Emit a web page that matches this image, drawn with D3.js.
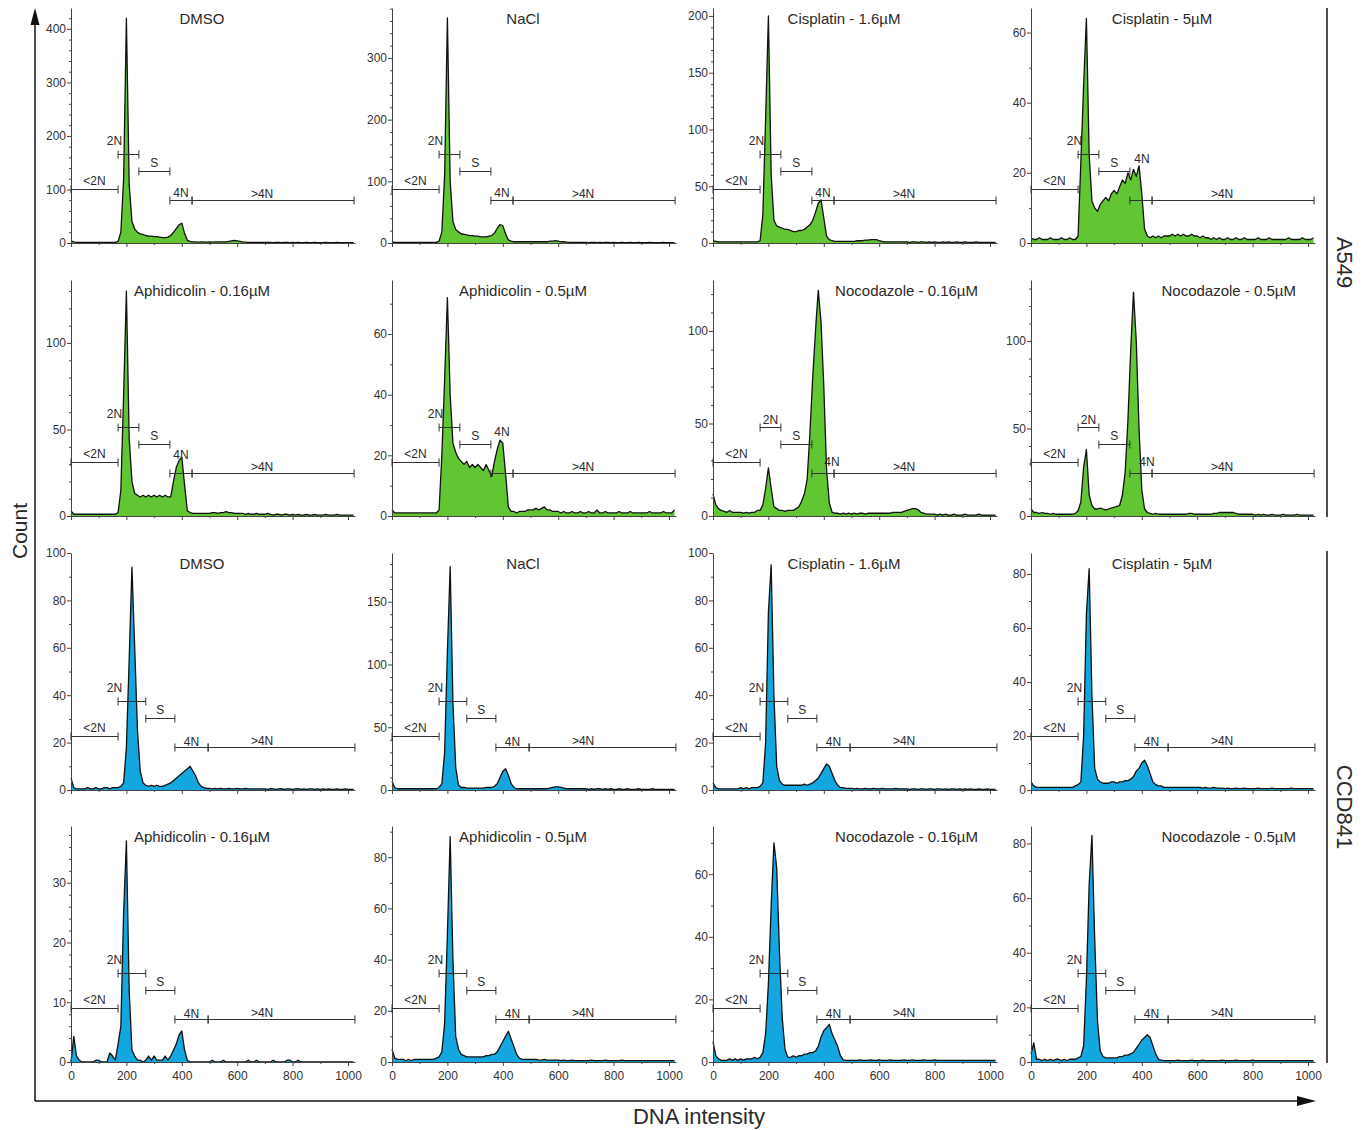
<!DOCTYPE html>
<html><head><meta charset="utf-8">
<script src="https://cdn.jsdelivr.net/npm/d3@7"></script>
<style>body{margin:0;background:#fff} text{font-family:"Liberation Sans",Arial,sans-serif}</style>
</head><body><svg id="c" width="1368" height="1130"></svg>
<script>
// ---------------- DATA ----------------
const binStep = 10; // DNA intensity per histogram bin (bins at 0,10,...,1020)
const cellLines = ["A549", "CCD841"];
const treatments = ["DMSO", "NaCl", "Cisplatin - 1.6µM", "Cisplatin - 5µM",
  "Aphidicolin - 0.16µM", "Aphidicolin - 0.5µM", "Nocodazole - 0.16µM", "Nocodazole - 0.5µM"];
const gateNames = ["<2N", "2N", "S", "4N", ">4N"];
const gatesA549 = [[0, 170], [170, 245], [245, 357], [357, 437], [437, 1022]];
const gatesCCD841 = [[0, 170], [170, 270], [270, 375], [375, 495], [495, 1025]];
const xTickValues = [0, 200, 400, 600, 800, 1000];
const xMinorTicks = [100, 300, 500, 700, 900];
// per panel (row-major, 16 panels): y-axis max, labelled ticks, minor tick step
const yMax = [439, 381, 207, 67, 136.4, 77.8, 127.6, 134.9, 100, 188.8, 100, 87.8, 39.5, 92.2, 75.4, 86.4];
const yTicks = [
  [0, 100, 200, 300, 400], [0, 100, 200, 300], [0, 50, 100, 150, 200], [0, 20, 40, 60],
  [0, 50, 100], [0, 20, 40, 60], [0, 50, 100], [0, 50, 100],
  [0, 20, 40, 60, 80, 100], [0, 50, 100, 150], [0, 20, 40, 60, 80, 100], [0, 20, 40, 60, 80],
  [0, 10, 20, 30], [0, 20, 40, 60, 80], [0, 20, 40, 60], [0, 20, 40, 60, 80]];
const yMinorStep = [20, 20, 10, 10, 10, 10, 10, 10, 10, 10, 10, 10, 2, 10, 10, 10];
// gate levels (count units): <2N, 2N, S, 4N (= >4N)
const gateLevels = [
  [101, 166, 135, 80], [87.5, 144, 117, 70], [47.6, 78.4, 63.4, 37.9], [15.5, 25.5, 20.6, 12.3],
  [31.2, 51.4, 41.6, 24.9], [17.8, 29.4, 23.8, 14.2], [29.2, 48.1, 38.9, 23.2], [30.9, 50.9, 41.1, 24.6],
  [22.8, 37.6, 30.4, 18.1], [43, 70.9, 57.4, 34.3], [22.8, 37.6, 30.4, 18.1], [20, 33, 26.7, 15.9],
  [9, 14.9, 12, 7.2], [21.1, 34.8, 28.1, 16.8], [17.3, 28.4, 23, 13.7], [19.8, 32.6, 26.4, 15.8]];

const a549_DMSO = [4,2,1,1,1,1,1,1,1,1, 1,1,1,1,1,1,1,3,20,120, 420,110,40,26,20,17,16,14,13,13, 12,12,11,10,10,11,14,20,27,34, 37,18,5,3,2,2,1.5,2,2,1.5, 2,1.5,2,2,2,2,2,3,4,5, 4,3,2,1.5,1,1,1,1,1,1, 1,1,1,0.5,1,1,0.5,1,1,0.5, 1,0.5,1,0.5,0.5,1,0.5,0.5,1,0.5, 0.5,0.5,1,0.5,0.5,0.5,1,0.5,0.5,0.5, 0.5,0.5,0.5];
const a549_NaCl = [2,1,1,1,1,1,1,1,1,1, 1,1,1,1,1,1,1,3,18,110, 365,100,35,22,18,15,14,13,12,12, 11,11,10,10,10,11,12,16,24,30, 28,15,5,3,2,2,2,2,2,2, 2,2,2,2,2,2,2,3,3,4, 3,2,2,1.5,1,1,1,1,1,1, 1,0.5,1,1,0.5,1,0.5,1,1,0.5, 1,0.5,0.5,1,0.5,0.5,1,0.5,0.5,1, 0.5,0.5,0.5,1,0.5,0.5,0.5,0.5,1,0.5, 0.5,0.5,0.5];
const a549_Cis16 = [2,1.5,1,1,1,1,1,1,1,1, 1,1,1,1,1,1,1,2,25,110, 200,60,20,15,14,13,12,12,11,10, 10,11,11,12,14,16,20,27,35,38, 22,6,3,2,1.5,1.5,1.5,1.5,1.5,1.5, 1.5,1.5,2,2,2,2.5,2.5,3,3,3, 2,1.5,1,1,1,1,1,1,1,1, 1,0.5,1,1,0.5,1,1,0.5,1,0.5, 1,0.5,0.5,1,0.5,1,0.5,0.5,1,0.5, 0.5,1,0.5,0.5,0.5,1,0.5,0.5,0.5,0.5, 0.5,0.5,0.5];
const a549_Cis5 = [1.5,1,1,1.5,1,1,1,1.5,1,1, 1,1.5,1,1,1.5,1,1,2,23,45, 64,25,12,10,9,11,12,13,12,14, 15,14,16,18,17,20,18,21,19,22, 14,4,2,1.5,2,1.5,2,1.5,2,2, 2,2.5,2,2.5,2,2.5,2,2,2.5,2, 2,1.5,2,1.5,1.5,1,1.5,1,1.5,1, 1,1.5,1,1,1.5,1,1,1.5,1,1, 1,1,1.5,1,1,1,1.5,1,1,1, 1,1,1,1.5,1,1,1,1,1.5,1, 1,1,1.5];
const a549_Aph016 = [3,1,1,1,1,1,1,1,1,1, 1,1,1,1,1,1,1,2,15,70, 130,45,20,13,12,11,12,11,12,11, 12,11,12,11,12,11,11,20,28,32, 34,18,3,2,1.5,1.5,1.5,1.5,1.5,1.5, 1.5,2,2,1.5,2,2,2.5,2,2,1.5, 1.5,1.5,1.5,1,1.5,1,1,1.5,1,1, 1,1.5,1,0.5,1,1,0.5,1,1,0.5, 1,0.5,1,0.5,0.5,1,0.5,0.5,1,0.5, 0.5,0.5,1,0.5,0.5,0.5,1,0.5,0.5,0.5, 0.5,0.5,0.5];
const a549_Aph05 = [2,1,1,1,1,1,1,1,1,1, 1,1,1,1,1,1,1,2,20,45, 72,40,24,21,19,18,17,18,16,17, 16,17,16,15,17,15,13,18,22,25, 24,14,3,1.5,1.5,1,1.5,1.5,1.5,2, 2,2,2.5,2,2.5,3,2,2,1.5,1.5, 1.5,1,1.5,1,1,1.5,1,1,1.5,1, 1,1.5,1,1,2,1,1,1.5,1,1, 1,1,1.5,1,1,1,1.5,1,1,1, 1,1,1,1.5,1,1,1,1,1.5,1, 1,1,2];
const a549_Noc016 = [12,6,4,3,2.5,2,3,2,2,2, 2,1.5,2,1.5,2,2,3,3,6,15, 26,15,5,4,3,3,2.5,3,3,3, 4,5,8,12,20,45,75,100,122,105, 70,25,7,2,1.5,1.5,1,1.5,1,1.5, 1,1.5,1,1.5,1.5,1,1.5,1.5,1.5,1.5, 1.5,1.5,1.5,1.5,1.5,2,2,2,2,2.5, 3,3.5,4,4,3.5,2,1.5,1,1,1, 1,0.5,1,0.5,1,0.5,0.5,1,0.5,0.5, 0.5,1,0.5,0.5,0.5,0.5,1,0.5,0.5,0.5, 0.5,0.5,0.5];
const a549_Noc05 = [4,2,2,1.5,2,1.5,1.5,1,1.5,1, 1,1,1,1,1,1,1.5,3,8,28, 38,12,6,4,4,4.5,4,3.5,4,4.5, 5,5.5,6,12,25,55,95,128,100,50, 15,4,2,1.5,1,1.5,1,1,1,1, 1,1,1,1,1,1,1,1.5,1.5,1, 1,1,1,1,1,1,1.5,1.5,2,2, 2,2,2,2,1.5,1,1,1,1,1, 1,0.5,1,0.5,1,0.5,0.5,1,0.5,0.5, 0.5,1,0.5,0.5,0.5,0.5,1,0.5,0.5,0.5, 0.5,0.5,0.5];
const ccd_DMSO = [5,1,0.5,0.5,0.5,0.5,1,0.5,0.5,1, 0.5,0.5,1,1,0.5,1,1,1,1.5,3, 18,55,94,60,25,8,3,2,1.5,2, 1.5,2,1.5,1.5,2,2.5,3,4,5,6, 7,8,9,10,8,6,3,1.5,1,0.7, 0.7,0.5,0.7,0.5,0.7,0.5,0.5,0.7,0.5,0.5, 0.7,0.5,0.5,0.7,0.5,0.5,0.5,0.5,0.5,0.5, 0.5,0.3,0.6,0.5,0.3,0.5,0.6,0.3,0.5,0.5, 0.3,0.5,0.6,0.3,0.5,0.3,0.5,0.5,0.3,0.5, 0.3,0.5,0.3,0.5,0.3,0.3,0.5,0.3,0.3,0.5, 0.3,0.3,0.3];
const ccd_NaCl = [7,2,1,1,1,1,1,1,1,1, 1,1,1,1,1,1,1,2,5,30, 110,178,70,18,4,2,2,1.5,1.5,1.5, 1.5,1.5,1.5,1.5,2,2,2,3,5,10, 15,17,12,5,2,1,1,1,1,1, 1,1,1,1,1,1,1,1.5,2,2.5, 2.5,2,1.5,1,1,1,1,1,1,1, 1,0.5,1,0.5,1,1,0.5,1,0.5,1, 0.5,0.5,1,0.5,0.5,1,0.5,0.5,0.5,1, 0.5,0.5,0.5,0.5,1,0.5,0.5,0.5,0.5,0.5, 0.5,0.5,0.5];
const ccd_Cis16 = [3,1,0.5,0.5,0.5,0.5,0.5,0.5,0.5,0.5, 1,0.5,1,0.5,1,1,1,1.5,3,20, 75,95,40,10,4,2.5,2,2,2,2, 2,2,2,2.5,2,2.5,3,4,5,7, 9,11,10,7,4,2,1,1,0.7,0.7, 0.7,0.5,0.7,0.5,0.5,0.7,0.5,0.5,0.7,0.5, 0.5,0.7,0.5,0.5,0.5,0.5,0.7,0.5,0.5,0.5, 0.5,0.3,0.5,0.5,0.3,0.5,0.5,0.3,0.5,0.5, 0.3,0.5,0.5,0.3,0.5,0.3,0.5,0.5,0.3,0.5, 0.3,0.5,0.3,0.5,0.3,0.3,0.5,0.3,0.3,0.5, 0.3,0.3,0.3];
const ccd_Cis5 = [3,1.5,1,1,1,1,1,1,1,1, 1,1,1,1,1,1,1.5,2,3,20, 65,82,35,8,4,3,2.5,2.5,2.5,3, 3,2.5,3,3,3.5,3.5,4,5,7,8, 10,11,9,6,3,2,1.5,1.5,1,1, 1,1,1,1,1,1,1,1,1,1, 1,1,0.7,1,0.7,0.7,1,0.7,0.7,0.7, 0.5,0.7,0.5,0.5,0.7,0.5,0.5,0.7,0.5,0.5, 0.5,0.5,0.7,0.5,0.5,0.5,0.5,0.7,0.5,0.5, 0.5,0.5,0.5,0.5,0.7,0.5,0.5,0.5,0.5,0.5, 0.5,0.5,0.5];
const ccd_Aph016 = [0,4.3,1,0.3,0,0,0,0,0,0.3, 0.3,0,0,0,1.5,1,0.3,3,6,25, 37,12,2,1,0.3,0.3,0,0.3,1,0.3, 1,0.3,0.3,0.3,1,0.3,1,2,3,4.5, 5.2,2,0.3,0,0,0,0,0,0,0, 0,0.3,0,0,0,0.3,0,0,0,0, 0,0,0,0,0.3,0,0,0.3,0,0, 0,0,0,0.3,0,0,0,0,0.3,0.3, 0,0,0.3,0,0,0,0,0,0,0, 0,0,0,0,0,0,0,0,0,0, 0,0,0];
const ccd_Aph05 = [5,1.5,1,1,1,0.5,1,0.5,1,1, 1,1,1,1,1,1,1.5,2,4,15, 50,88,40,10,5,3,2.5,2,2,2, 2,2,2,2,2.5,2.5,3,3,4,6, 8,10,12,9,6,3,1.5,1,1,1, 1,1,1,0.7,0.7,1,0.7,0.7,0.7,0.7, 0.7,0.5,0.7,0.5,0.5,0.7,0.5,0.5,0.5,0.5, 0.5,0.5,0.7,0.5,0.5,0.5,0.5,0.7,0.5,0.5, 0.5,0.5,0.5,0.7,0.5,0.5,0.5,0.5,0.5,0.5, 0.5,0.5,0.5,0.5,0.5,0.5,0.5,0.5,0.5,0.5, 0.5,0.5,0.5];
const ccd_Noc016 = [6.5,2,1,0.5,0.5,0.5,1,0.5,1,0.5, 1,0.5,1,1,1,1.5,1,1.5,3,9, 25,50,70,62,35,14,4,1.5,1.5,2, 1.5,2,2,2.5,2.5,3,3,3.5,5,8, 10,11,12,9,7,5,2,0.7,0.5,0.5, 0.5,0.5,0.5,0.7,0.5,0.5,0.5,0.7,0.5,0.5, 0.7,0.5,0.5,0.5,0.7,0.5,0.5,0.5,0.5,0.7, 0.5,0.5,0.7,0.5,0.5,0.5,0.7,0.5,0.5,0.5, 0.7,0.5,0.5,0.5,0.5,0.5,0.5,0.5,0.5,0.5, 0.5,0.5,0.5,0.5,0.5,0.5,0.5,0.5,0.5,0.5, 0.5,0.5,0.5];
const ccd_Noc05 = [3,7,1,1,0.5,1,0.5,1,0.5,1, 1,0.5,1,0.5,1,1,1,1.5,2,6, 30,65,83,45,15,4,2,1.5,1.5,1.5, 1.5,1.5,2,2,2.5,2.5,3,3.5,5,6.5, 8,9,10,9,6,3,1,0.7,0.5,0.5, 0.5,0.5,0.5,0.7,0.5,0.5,0.5,0.5,0.7,0.5, 0.5,0.5,0.7,0.5,0.5,0.5,0.5,0.5,0.5,0.7, 0.5,0.5,0.5,0.5,0.7,0.5,0.5,0.5,0.5,0.5, 0.7,0.5,0.5,0.5,0.5,0.5,0.5,0.5,0.5,0.5, 0.5,0.5,0.5,0.5,0.5,0.5,0.5,0.5,0.5,0.5, 0.5,0.5,0.5];

const panelCounts = [a549_DMSO, a549_NaCl, a549_Cis16, a549_Cis5, a549_Aph016, a549_Aph05, a549_Noc016, a549_Noc05,
  ccd_DMSO, ccd_NaCl, ccd_Cis16, ccd_Cis5, ccd_Aph016, ccd_Aph05, ccd_Noc016, ccd_Noc05];

// ---------------- LAYOUT / STYLE ----------------
const W = 1368, H = 1130;
const colX = [71, 392, 713, 1031];
const rowBase = [243, 516, 790, 1062];
const rowTop = [8, 280, 553, 826];
const px1000 = 277;
const fills = ["#62c634", "#14a6df"];
const ink = "#2a2a2a";
const fourNLift = [0, 0, 0, 34, 11, 34, 4, 4, 0, 0, 0, 0, 0, 0, 0, 0];
const fourNdx = [0, 0, 0, 1, 0, 0, 9, 6, 0, 0, 0, 0, 0, 0, 0, 0];

const svg = d3.select("#c");
svg.append("rect").attr("width", W).attr("height", H).attr("fill", "#fff");

panelCounts.forEach((counts, p) => {
  const row = Math.floor(p / 4), col = p % 4;
  const cell = row < 2 ? 0 : 1;
  const t = (row % 2) * 4 + col;
  const x0 = colX[col];
  const x = d3.scaleLinear().domain([0, 1000]).range([x0, x0 + px1000]);
  const y = d3.scaleLinear().domain([0, yMax[p]]).range([rowBase[row], rowTop[row]]);
  const g = svg.append("g");
  const pts = counts.map((v, i) => [i * binStep, v]);

  g.append("path").datum(pts)
    .attr("d", d3.area().x(d => x(d[0])).y0(y(0)).y1(d => y(d[1])))
    .attr("fill", fills[cell]);
  g.append("path").datum(pts)
    .attr("d", d3.line().x(d => x(d[0])).y(d => y(d[1])))
    .attr("fill", "none").attr("stroke", "#111").attr("stroke-width", 1.3).attr("stroke-linejoin", "round");

  // y axis
  const minor = d3.range(0, yMax[p] + 1e-9, yMinorStep[p]).filter(v => !yTicks[p].includes(v));
  const yAxisMinor = g.append("g").attr("transform", `translate(${x0},0)`)
    .call(d3.axisLeft(y).tickValues(minor).tickSize(2).tickSizeOuter(0).tickFormat(""));
  yAxisMinor.select(".domain").remove();
  const yAx = g.append("g").attr("transform", `translate(${x0},0)`)
    .call(d3.axisLeft(y).tickValues(yTicks[p]).tickSize(4).tickPadding(1).tickSizeOuter(0));
  yAx.selectAll("text").attr("font-size", 12).attr("fill", "#333").attr("font-family", "Liberation Sans, Arial, sans-serif");

  // x axis
  const xa = d3.scaleLinear().domain([0, 1025]).range([x0, x(1025)]);
  const xMin = g.append("g").attr("transform", `translate(0,${rowBase[row]})`)
    .call(d3.axisBottom(xa).tickValues(xMinorTicks).tickSize(2).tickSizeOuter(0).tickFormat(""));
  xMin.select(".domain").remove();
  const xAx = g.append("g").attr("transform", `translate(0,${rowBase[row]})`)
    .call(d3.axisBottom(xa).tickValues(xTickValues).tickSize(4).tickPadding(5).tickSizeOuter(0)
      .tickFormat(row === 3 ? d3.format("d") : ""));
  xAx.selectAll("text").attr("font-size", 12).attr("fill", "#333").attr("font-family", "Liberation Sans, Arial, sans-serif");
  g.selectAll(".domain, .tick line").attr("stroke", "#444");

  // title
  const isNoco = t >= 6;
  g.append("text").text(treatments[t])
    .attr("x", isNoco ? x0 + 265 : x0 + 131).attr("y", rowTop[row] + 16)
    .attr("text-anchor", isNoco ? "end" : "middle").attr("font-size", 15).attr("fill", ink);

  // gates
  const gates = cell === 0 ? gatesA549 : gatesCCD841;
  gates.forEach((gr, gi) => {
    const lvl = gateLevels[p][Math.min(gi, 3)];
    const yy = Math.round(y(lvl)) + 0.5;
    const xa1 = x(gr[0]), xb1 = x(gr[1]);
    g.append("line").attr("x1", xa1).attr("x2", xb1).attr("y1", yy).attr("y2", yy)
      .attr("stroke", "#333").attr("stroke-width", 1);
    [xa1, xb1].forEach(cx => g.append("line").attr("x1", cx).attr("x2", cx)
      .attr("y1", yy - 4).attr("y2", yy + 4).attr("stroke", "#333").attr("stroke-width", 1));
    let lx = (xa1 + xb1) / 2, ly = yy - 5, anchor = "middle";
    if (gi === 1) {
      if (cell === 0 && isNoco) { ly = yy - 4; }
      else { lx = xa1 + 4; anchor = "end"; ly = yy - 10; }
    } else if (gi === 3) {
      lx += fourNdx[p];
      ly = yy - (cell === 0 ? 4 : 2) - fourNLift[p];
    } else if (gi === 4) {
      lx = x(690); ly = yy - 3;
    }
    g.append("text").text(gateNames[gi]).attr("x", lx).attr("y", ly)
      .attr("text-anchor", anchor).attr("font-size", 12).attr("fill", ink);
  });
});

// outer frame: arrows and labels
svg.append("line").attr("x1", 35).attr("x2", 35).attr("y1", 1101).attr("y2", 22).attr("stroke", "#111").attr("stroke-width", 1.5);
svg.append("path").attr("d", "M35,8 L30.5,25 L39.5,25 Z").attr("fill", "#111");
svg.append("line").attr("x1", 35).attr("x2", 1300).attr("y1", 1101).attr("y2", 1101).attr("stroke", "#111").attr("stroke-width", 1.5);
svg.append("path").attr("d", "M1316,1101 L1297,1096 L1297,1106 Z").attr("fill", "#111");
svg.append("text").text("Count").attr("transform", "translate(27,531) rotate(-90)")
  .attr("text-anchor", "middle").attr("font-size", 21).attr("fill", ink);
svg.append("text").text("DNA intensity").attr("x", 699).attr("y", 1124)
  .attr("text-anchor", "middle").attr("font-size", 22).attr("fill", ink);

const sideSpans = [[8, 517], [551, 1063]];
cellLines.forEach((c, i) => {
  svg.append("line").attr("x1", 1327).attr("x2", 1327).attr("y1", sideSpans[i][0]).attr("y2", sideSpans[i][1])
    .attr("stroke", "#111").attr("stroke-width", 1.5);
  svg.append("text").text(c)
    .attr("transform", `translate(1337,${(sideSpans[i][0] + sideSpans[i][1]) / 2}) rotate(90)`)
    .attr("text-anchor", "middle").attr("font-size", 22).attr("fill", ink);
});
</script>
</body></html>
